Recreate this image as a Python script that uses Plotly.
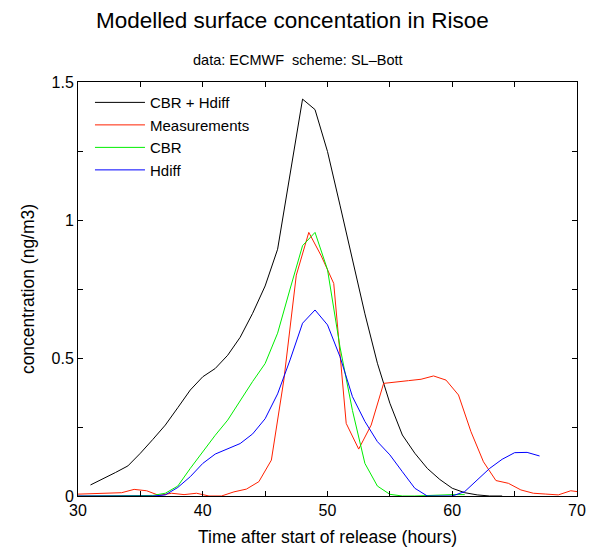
import plotly.graph_objects as go

# CBR + Hdiff (hourly)
cbrh_x = list(range(31, 65))
cbrh_y = [0.04, 0.062, 0.085, 0.109, 0.155, 0.205, 0.257, 0.32, 0.384, 0.432,
          0.462, 0.51, 0.575, 0.662, 0.761, 0.894, 1.17, 1.438, 1.40, 1.248,
          1.054, 0.856, 0.66, 0.481, 0.336, 0.221, 0.155, 0.10, 0.06, 0.028,
          0.012, 0.004, 0.0, 0.0]

# Measurements (half-hour)
meas_x = [29.5 + i for i in range(41)]
meas_y = [0.006, 0.008, 0.01, 0.011, 0.012, 0.024, 0.019, 0.002, 0.01, 0.005,
          0.01, 0.0, 0.0, 0.015, 0.025, 0.052, 0.13, 0.42, 0.80, 0.955,
          0.87, 0.77, 0.263, 0.17, 0.257, 0.408, 0.412, 0.418, 0.423, 0.435,
          0.42, 0.366, 0.233, 0.124, 0.056, 0.046, 0.022, 0.01, 0.007, 0.004,
          0.019]
meas_x.append(70.0)
meas_y.append(0.016)

# CBR (hourly)
cbr_x = list(range(30, 62))
cbr_y = [0.0, 0.0, 0.0, 0.0, 0.0, 0.0, 0.002, 0.01, 0.036, 0.10,
         0.16, 0.22, 0.275, 0.345, 0.415, 0.48, 0.59, 0.75, 0.907, 0.955,
         0.82, 0.54, 0.31, 0.118, 0.036, 0.006, 0.0, 0.0, 0.002, 0.004,
         0.005, 0.005]

# Hdiff (hourly)
hd_x = list(range(30, 68))
hd_y = [0.0, 0.0, 0.0, 0.0, 0.0, 0.0, 0.0, 0.004, 0.031, 0.07,
        0.118, 0.152, 0.171, 0.19, 0.225, 0.28, 0.37, 0.493, 0.626, 0.674,
        0.62, 0.505, 0.36, 0.27, 0.197, 0.149, 0.088, 0.028, 0.0, 0.0,
        0.0, 0.016, 0.058, 0.10, 0.133, 0.157, 0.158, 0.145]

x_ticks = [30, 35, 40, 45, 50, 55, 60, 65, 70]
x_labels = ["30", "", "40", "", "50", "", "60", "", "70"]
y_ticks = [0, 0.25, 0.5, 0.75, 1.0, 1.25, 1.5]
y_labels = ["0", "", "0.5", "", "1", "", "1.5"]

font = "Liberation Sans, Arial, Helvetica, sans-serif"

fig = go.Figure()
fig.add_trace(go.Scatter(x=cbrh_x, y=cbrh_y, mode="lines", name="CBR + Hdiff",
                         line=dict(color="#000000", width=1)))
fig.add_trace(go.Scatter(x=meas_x, y=meas_y, mode="lines", name="Measurements",
                         line=dict(color="#ff2000", width=1)))
fig.add_trace(go.Scatter(x=cbr_x, y=cbr_y, mode="lines", name="CBR",
                         line=dict(color="#00ee00", width=1)))
fig.add_trace(go.Scatter(x=hd_x, y=hd_y, mode="lines", name="Hdiff",
                         line=dict(color="#0000ff", width=1)))

axis_common = dict(showgrid=False, zeroline=False, showline=True, mirror="ticks",
                   linecolor="black", linewidth=1, ticks="inside", ticklen=5,
                   tickcolor="black", automargin=False,
                   tickfont=dict(size=16, color="black", family=font))

fig.update_layout(
    width=596, height=547,
    paper_bgcolor="white", plot_bgcolor="white",
    margin=dict(l=78, r=19, t=82, b=51),
    font=dict(family=font, color="black"),
    showlegend=True,
    legend=dict(x=0.024, y=0.99, xanchor="left", yanchor="top",
                bgcolor="rgba(0,0,0,0)", font=dict(size=15, color="black"),
                itemwidth=50, tracegroupgap=0),
    xaxis=dict(range=[30, 70], tickvals=x_ticks, ticktext=x_labels,
               title=dict(text="Time after start of release (hours)",
                          font=dict(size=17.5), standoff=14), **axis_common),
    yaxis=dict(range=[0, 1.5], tickvals=y_ticks, ticktext=y_labels,
               title=dict(text="concentration (ng/m3)", font=dict(size=17.5), standoff=12),
               **axis_common),
    annotations=[
        dict(text="Modelled surface concentation in Risoe", xref="paper", yref="paper",
             x=(292 - 78) / 499, y=1, yshift=62, xanchor="center", yanchor="middle",
             showarrow=False, font=dict(size=22.5, color="black")),
        dict(text="data: ECMWF  scheme: SL\u2013Bott", xref="paper", yref="paper",
             x=(298 - 78) / 499, y=1, yshift=22, xanchor="center", yanchor="middle",
             showarrow=False, font=dict(size=14.5, color="black")),
    ],
)

fig.write_html("out.html")
